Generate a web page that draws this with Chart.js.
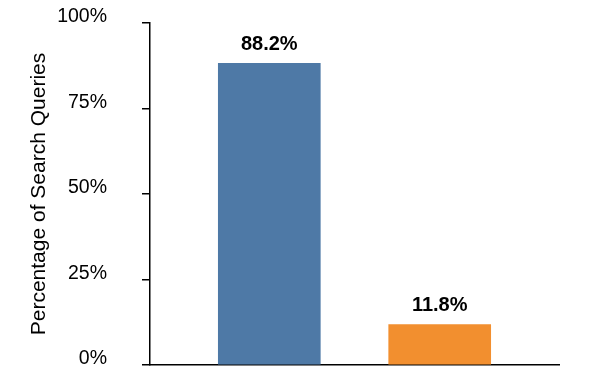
<!DOCTYPE html>
<html>
<head>
<meta charset="utf-8">
<script src="https://cdn.jsdelivr.net/npm/chart.js@4"></script>
<style>
  html, body { margin: 0; padding: 0; background: #fff; }
  #wrap { width: 613px; height: 390px; position: relative; }
</style>
</head>
<body>
<div id="wrap"><canvas id="c"></canvas></div>
<script>
// Data
const categories = ['Category 1', 'Category 2'];
const positions = [0, 1];
const values = [88.2, 11.8];
const valueLabels = ['88.2%', '11.8%'];
const barColors = ['#4e79a6', '#f28f2f'];
const yTicks = [0, 25, 50, 75, 100];
const yTitle = 'Percentage of Search Queries';

const FONT = "'Liberation Sans', Arial, sans-serif";

const labelPlugin = {
  id: 'barLabels',
  afterDatasetsDraw(chart) {
    const ctx = chart.ctx;
    const meta = chart.getDatasetMeta(0);
    ctx.save();
    ctx.font = 'bold 20px ' + FONT;
    ctx.fillStyle = '#000';
    ctx.textAlign = 'center';
    ctx.textBaseline = 'middle';
    meta.data.forEach((bar, i) => {
      ctx.fillText(valueLabels[i], bar.x, bar.y - 19);
    });
    ctx.restore();
  }
};

new Chart(document.getElementById('c'), {
  type: 'bar',
  data: {
    labels: categories,
    datasets: [{
      data: positions.map((p, i) => ({ x: p, y: values[i] })),
      backgroundColor: barColors,
      borderWidth: 0,
      barThickness: 102
    }]
  },
  options: {
    responsive: true,
    maintainAspectRatio: false,
    animation: false,
    layout: { padding: { top: 23, right: 54, bottom: 25, left: 0 } },
    plugins: { legend: { display: false }, tooltip: { enabled: false } },
    scales: {
      x: {
        type: 'linear',
        min: -0.7,
        max: 1.7,
        offset: false,
        ticks: { display: false },
        grid: { display: true, offset: false, drawOnChartArea: false, drawTicks: false },
        border: { display: true, color: '#000', width: 1.5 }
      },
      y: {
        min: 0,
        max: 100,
        afterFit(scale) {
          scale.width = 150;
          scale.paddingTop = 0;
          scale.paddingBottom = 0;
        },
        afterBuildTicks(scale) { scale.ticks = yTicks.map(v => ({ value: v })); },
        ticks: {
          callback: v => v + '%',
          font: { family: FONT, size: 19.5 },
          color: '#000',
          padding: 35,
          labelOffset: -6
        },
        grid: { drawOnChartArea: false, drawTicks: true, tickLength: 8, color: '#000', lineWidth: 1.5 },
        border: { display: true, color: '#000', width: 1.5 },
        title: {
          display: true,
          text: yTitle,
          font: { family: FONT, size: 21 },
          color: '#000',
          padding: { top: 27, bottom: 0 }
        }
      }
    }
  },
  plugins: [labelPlugin]
});
</script>
</body>
</html>
